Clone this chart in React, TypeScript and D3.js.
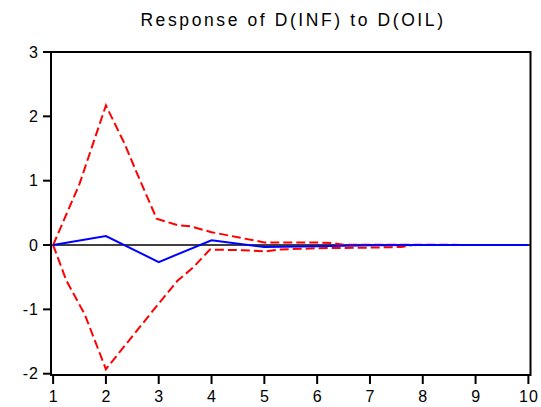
import React from "react";
import * as d3 from "d3";

const title = "Response of D(INF) to D(OIL)";
const periods = [1, 2, 3, 4, 5, 6, 7, 8, 9, 10];
const response = [0, 0.14, -0.265, 0.075, -0.03, -0.02, -0.005, 0, 0, 0];
const upperX = [1, 1.5, 2, 2.35, 2.57, 2.96, 3.35, 3.6, 4, 4.5, 5, 6, 6.3, 6.5, 7, 10];
const upperY = [0, 0.95, 2.17, 1.58, 1.15, 0.41, 0.31, 0.29, 0.2, 0.12, 0.04, 0.04, 0.03, 0.005, 0.005, 0];
const lowerX = [1, 1.25, 1.6, 2, 2.5, 2.96, 3.35, 3.65, 3.97, 4.6, 5, 5.3, 6, 7, 7.6, 7.8, 10];
const lowerY = [0, -0.55, -1.08, -1.93, -1.42, -0.95, -0.56, -0.35, -0.07, -0.08, -0.1, -0.07, -0.05, -0.04, -0.03, 0, 0];
const yTicks = [-2, -1, 0, 1, 2, 3];

const W = 541;
const H = 407;
const left = 51;
const right = 530.5;
const top = 52;
const bottom = 375;

export default function App() {
  const x = d3.scaleLinear().domain([0.96, 10.04]).range([left, right]);
  const y = d3.scaleLinear().domain([-2.02, 3]).range([bottom, top]);
  const line = d3
    .line<[number, number]>()
    .x((d) => x(d[0]))
    .y((d) => y(d[1]));
  const respPts = periods.map((p, i) => [p, response[i]] as [number, number]);
  const upPts = upperX.map((p, i) => [p, upperY[i]] as [number, number]);
  const loPts = lowerX.map((p, i) => [p, lowerY[i]] as [number, number]);
  const font = "Liberation Sans, Arial, sans-serif";
  return (
    <svg
      width={W}
      height={H}
      style={{ position: "absolute", left: 0, top: 0, background: "#fff" }}
    >
      <rect x={0} y={0} width={W} height={H} fill="#fff" />
      <text
        x={293}
        y={26}
        textAnchor="middle"
        fontFamily={font}
        fontSize={17.5}
        letterSpacing={2.6}
        fill="#000"
      >
        {title}
      </text>
      <line x1={left} x2={right} y1={y(0)} y2={y(0)} stroke="#000" strokeWidth={1.5} />
      <path d={line(upPts) || ""} fill="none" stroke="#ff0000" strokeWidth={2} strokeDasharray="9,4" />
      <path d={line(loPts) || ""} fill="none" stroke="#ff0000" strokeWidth={2} strokeDasharray="9,4" />
      <path d={line(respPts) || ""} fill="none" stroke="#0000ff" strokeWidth={2} />
      <rect x={left} y={top} width={right - left} height={bottom - top} fill="none" stroke="#000" strokeWidth={2} />
      {yTicks.map((t) => (
        <g key={"y" + t}>
          <line x1={left - 8} x2={left} y1={y(t)} y2={y(t)} stroke="#000" strokeWidth={2} />
          <text
            x={left - 12}
            y={y(t) + 5.5}
            textAnchor="end"
            fontFamily={font}
            fontSize={16}
            letterSpacing={1}
            fill="#000"
          >
            {t}
          </text>
        </g>
      ))}
      {periods.map((p) => (
        <g key={"x" + p}>
          <line x1={x(p)} x2={x(p)} y1={bottom} y2={bottom + 9} stroke="#000" strokeWidth={2} />
          <text
            x={x(p) + 0.5}
            y={402}
            textAnchor="middle"
            fontFamily={font}
            fontSize={16}
            letterSpacing={1}
            fill="#000"
          >
            {p}
          </text>
        </g>
      ))}
    </svg>
  );
}
